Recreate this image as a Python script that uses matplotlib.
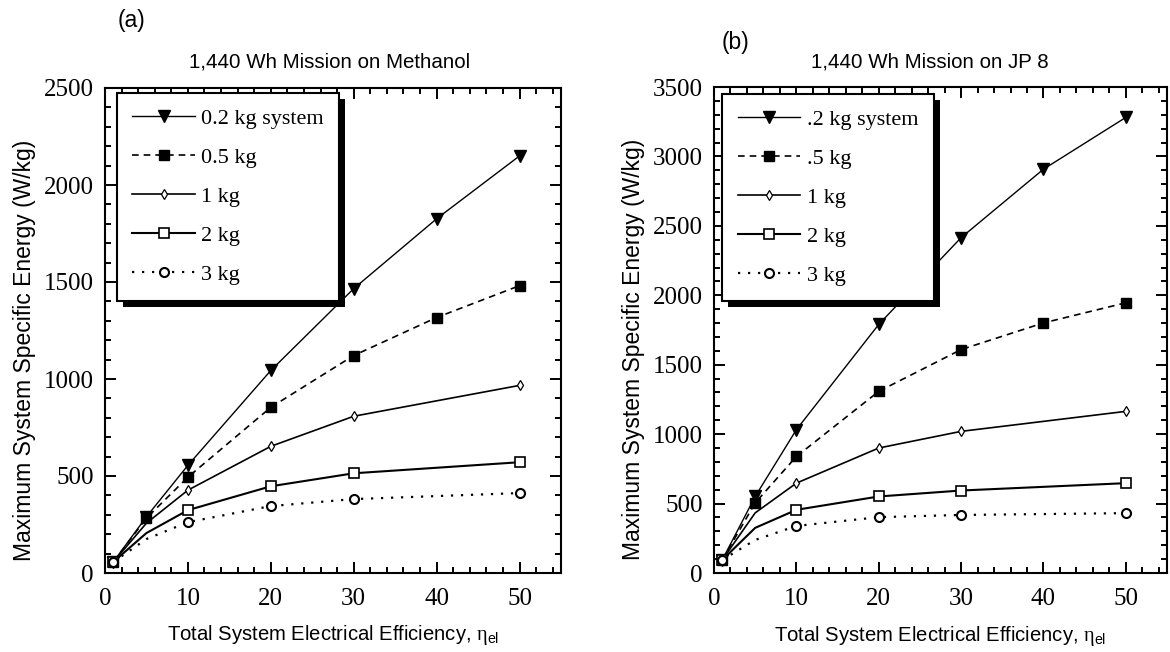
import matplotlib
matplotlib.use("Agg")
import matplotlib.pyplot as plt
from matplotlib.patches import Rectangle
from matplotlib.transforms import IdentityTransform
from matplotlib.ticker import MultipleLocator

# ---------------- data ----------------
x_full = [1, 5, 10, 20, 30, 40, 50]   # 0.2 kg and 0.5 kg systems
x_part = [1, 5, 10, 20, 30, 50]       # 1, 2, 3 kg systems

labels_a = ["0.2 kg system", "0.5 kg", "1 kg", "2 kg", "3 kg"]
labels_b = [".2 kg system", ".5 kg", "1 kg", "2 kg", "3 kg"]

# (a) Methanol
meth_02 = [57, 290, 555, 1044, 1466, 1826, 2150]
meth_05 = [57, 283, 494, 854, 1121, 1317, 1481]
meth_1 = [57, 257, 427, 653, 808, 967]
meth_2 = [57, 206, 324, 447, 514, 571]
meth_3 = [57, 175, 262, 345, 381, 412]

# (b) JP 8
jp8_02 = [94, 551, 1032, 1790, 2415, 2908, 3281]
jp8_05 = [94, 505, 839, 1308, 1609, 1801, 1946]
jp8_1 = [94, 433, 647, 900, 1020, 1164]
jp8_2 = [94, 325, 455, 551, 594, 647]
jp8_3 = [94, 238, 339, 402, 418, 431]

plt.rcParams['mathtext.fontset'] = 'custom'
plt.rcParams['mathtext.rm'] = 'Liberation Sans'
plt.rcParams['mathtext.it'] = 'Liberation Serif'

SANS = 'Liberation Sans'
SERIF = 'Liberation Serif'

fig = plt.figure(figsize=(11.7, 6.52), dpi=100)
W, H = 1170, 652


def axes_px(l, r, t, b):
    return fig.add_axes([l / W, (H - b) / H, (r - l) / W, (b - t) / H])


ax_a = axes_px(105, 561, 88, 573)
ax_b = axes_px(714, 1167, 87, 573)

styles = [
    dict(ls='-', lw=1.0, marker='v', ms=8, mfc='black', mec='black'),
    dict(ls=(0, (4, 3)), lw=1.2, marker='s', ms=7, mfc='black', mec='black'),
    dict(ls='-', lw=1.2, marker='d', ms=5.5, mfc='white', mec='black', mew=0.9),
    dict(ls='-', lw=1.5, marker='s', ms=6.5, mfc='white', mec='black', mew=1.2),
    dict(ls=(0, (1, 3.5)), lw=1.6, marker='o', ms=6.5, mfc='white', mec='black', mew=1.5),
]


def draw_panel(ax, series, labels, ymax, leg_anchor):
    xs = [x_full, x_full, x_part, x_part, x_part]
    handles = []
    for i, (xv, yv) in enumerate(zip(xs, series)):
        st = dict(styles[i])
        mk = [j for j in range(len(xv)) if not (i >= 2 and xv[j] == 5)]
        h, = ax.plot(xv, yv, color='black', markevery=mk, label=labels[i], **st)
        handles.append(h)
    ax.set_xlim(0, 55)
    ax.set_ylim(0, ymax)
    ax.set_xticks([0, 10, 20, 30, 40, 50])
    ax.xaxis.set_minor_locator(MultipleLocator(2))
    ax.yaxis.set_major_locator(MultipleLocator(500))
    ax.yaxis.set_minor_locator(MultipleLocator(100))
    ax.tick_params(which='both', direction='in', top=True, right=True, width=1.4)
    ax.tick_params(which='major', length=8)
    ax.tick_params(which='minor', length=4.5)
    ax.tick_params(axis='x', which='major', pad=11, labelsize=18)
    ax.tick_params(axis='y', which='major', pad=8, labelsize=18)
    for lab in ax.get_xticklabels() + ax.get_yticklabels():
        lab.set_fontfamily(SERIF)
    for sp in ax.spines.values():
        sp.set_linewidth(1.5)
    leg = ax.legend(handles=handles, loc='upper left', bbox_to_anchor=leg_anchor,
                    borderaxespad=0, frameon=True, fancybox=False, shadow=False,
                    prop={'family': SERIF, 'size': 16}, handlelength=2.8,
                    handletextpad=0.3, labelspacing=0.83, borderpad=0.7)
    leg.get_frame().set_edgecolor('black')
    leg.get_frame().set_linewidth(1.5)
    leg.get_frame().set_alpha(1)
    return leg


leg_a = draw_panel(ax_a, [meth_02, meth_05, meth_1, meth_2, meth_3], labels_a, 2500,
                   (0.026, 0.99))
leg_b = draw_panel(ax_b, [jp8_02, jp8_05, jp8_1, jp8_2, jp8_3], labels_b, 3500,
                   (0.018, 0.986))

ylabel = 'Maximum System Specific Energy (W/kg)'
xlabel = r'Total System Electrical Efficiency, $\eta_{\mathrm{el}}$'
for ax in (ax_a, ax_b):
    ax.set_ylabel(ylabel, fontfamily=SANS, fontsize=16.5)
    ax.set_xlabel(xlabel, fontfamily=SANS, fontsize=14.6)
    ax.yaxis.set_label_coords(-0.152, 0.46)
    ax.xaxis.set_label_coords(0.5, -0.104)

fig.text(330 / W, 1 - 62 / H, '1,440 Wh Mission on Methanol', ha='center', va='center',
         fontfamily=SANS, fontsize=14.8)
fig.text(930 / W, 1 - 62 / H, '1,440 Wh Mission on JP 8', ha='center', va='center',
         fontfamily=SANS, fontsize=14.8)
fig.text(118 / W, 1 - 21 / H, '(a)', ha='left', va='center', fontfamily=SANS, fontsize=16.5)
fig.text(722 / W, 1 - 43 / H, '(b)', ha='left', va='center', fontfamily=SANS, fontsize=16.5)

# black drop shadow behind legends
fig.canvas.draw()
for ax, leg in ((ax_a, leg_a), (ax_b, leg_b)):
    bb = leg.get_frame().get_window_extent(fig.canvas.get_renderer())
    sh = Rectangle((bb.x0 + 6, bb.y0 - 6), bb.width, bb.height, transform=IdentityTransform(),
                   facecolor='black', edgecolor='none', zorder=4.9, clip_on=False)
    ax.add_patch(sh)

fig.savefig('out.png', dpi=100)
